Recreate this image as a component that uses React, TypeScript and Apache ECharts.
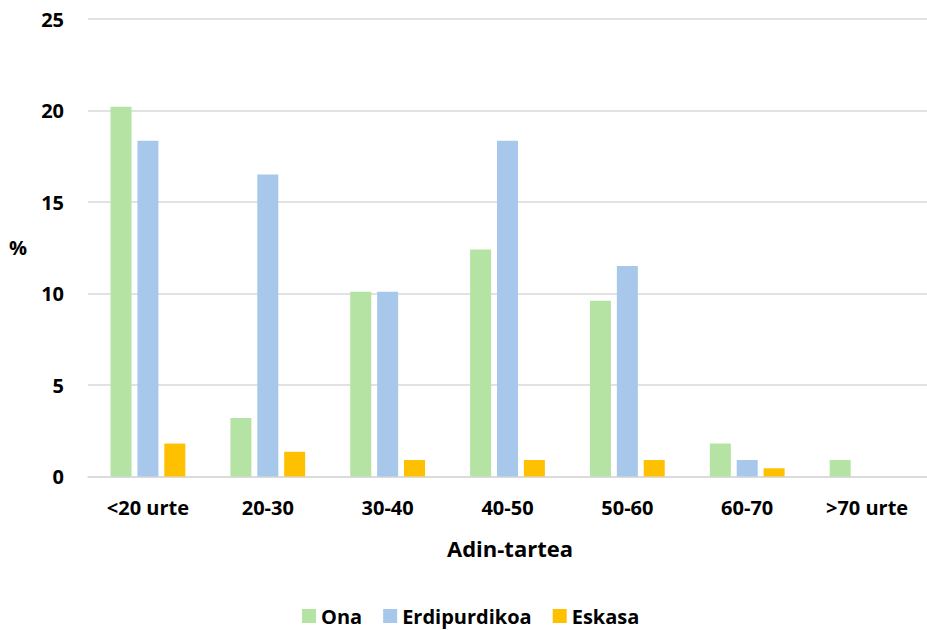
import React, { useEffect, useRef } from "react";
import * as echarts from "echarts";

const categories = ["<20 urte", "20-30", "30-40", "40-50", "50-60", "60-70", ">70 urte"];
const ona = [20.2, 3.2, 10.1, 12.4, 9.6, 1.8, 0.9];
const erdipurdikoa = [18.35, 16.5, 10.1, 18.35, 11.5, 0.9, 0];
const eskasa = [1.8, 1.35, 0.9, 0.9, 0.9, 0.45, 0];
const seriesNames = ["Ona", "Erdipurdikoa", "Eskasa"];
const colors = ["#B5E3A3", "#A7C8EB", "#FFC000"];

const FONT = "'Open Sans', 'Liberation Sans', sans-serif";

export default function App() {
  const ref = useRef<HTMLDivElement>(null);
  useEffect(() => {
    document.body.style.margin = "0";
    const chart = echarts.init(ref.current!, undefined, { renderer: "svg" });
    const data = [ona, erdipurdikoa, eskasa];
    chart.setOption({
      animation: false,
      backgroundColor: "#ffffff",
      textStyle: { fontFamily: FONT },
      grid: { left: 88, top: 19, width: 845, height: 457.5 },
      legend: {
        data: seriesNames,
        left: 302,
        top: 606,
        padding: 0,
        itemWidth: 14,
        itemHeight: 14,
        itemGap: 21,
        icon: "rect",
        textStyle: { fontFamily: FONT, fontWeight: "bold", fontSize: 20, color: "#000" },
      },
      xAxis: {
        type: "category",
        data: categories,
        axisLine: { lineStyle: { color: "#d9d9d9", width: 1.5 } },
        axisTick: { show: false },
        axisLabel: { color: "#000", fontWeight: "bold", fontSize: 20, fontFamily: FONT, margin: 21 },
      },
      yAxis: {
        type: "value",
        min: 0,
        max: 25,
        interval: 5,
        axisLine: { show: false },
        axisTick: { show: false },
        splitLine: { lineStyle: { color: "#d9d9d9", width: 1.5 } },
        axisLabel: { color: "#000", fontWeight: "bold", fontSize: 20, fontFamily: FONT, margin: 24 },
      },
      graphic: [
        {
          type: "text",
          left: 9,
          top: 237,
          style: { text: "%", font: `bold 20px ${FONT}`, fill: "#000" },
        },
        {
          type: "text",
          x: 510,
          y: 548,
          style: { text: "Adin-tartea", font: `bold 22px ${FONT}`, fill: "#000", align: "center", verticalAlign: "middle" },
        },
      ],
      series: seriesNames.map((name, i) => ({
        name,
        type: "bar",
        data: data[i],
        barWidth: 21,
        barGap: "28%",
        itemStyle: { color: colors[i] },
      })),
    });
    return () => chart.dispose();
  }, []);
  return <div ref={ref} style={{ width: 927, height: 630 }} />;
}
